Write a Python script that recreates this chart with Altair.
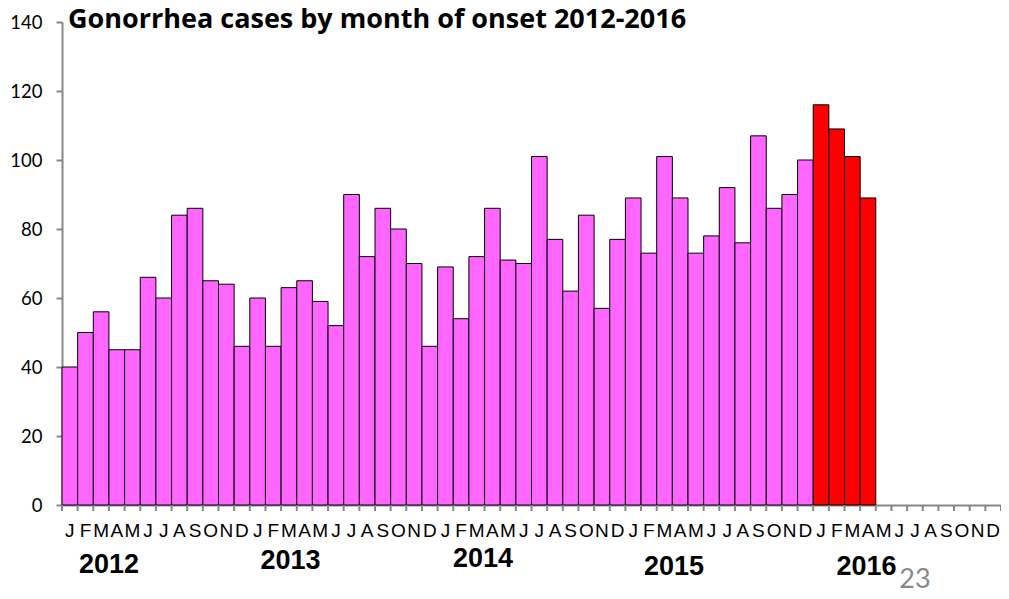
import altair as alt
import pandas as pd

# ---- data ----
months = ["J", "F", "M", "A", "M", "J", "J", "A", "S", "O", "N", "D"]
years = ["2012", "2013", "2014", "2015", "2016"]
cases_2012 = [40, 50, 56, 45, 45, 66, 60, 84, 86, 65, 64, 46]
cases_2013 = [60, 46, 63, 65, 59, 52, 90, 72, 86, 80, 70, 46]
cases_2014 = [69, 54, 72, 86, 71, 70, 101, 77, 62, 84, 57, 77]
cases_2015 = [89, 73, 101, 89, 73, 78, 92, 76, 107, 86, 90, 100]
cases_2016 = [116, 109, 101, 89]
year_label_slot = [3.0, 14.6, 26.9, 39.1, 51.4]
year_label_base = [551, 547, 545, 553, 553]
y_ticks = [0, 20, 40, 60, 80, 100, 120, 140]

all_cases = [cases_2012, cases_2013, cases_2014, cases_2015, cases_2016]
rows = []
i = 0
for yr, vals in zip(years, all_cases):
    for v in vals:
        rows.append({"start": i, "end": i + 1, "value": v,
                     "grp": "current" if yr == "2016" else "past"})
        i += 1
bars_df = pd.DataFrame(rows)

month_df = pd.DataFrame([{"pos": k + 0.5, "label": months[k % 12]} for k in range(60)])
tick_df = pd.DataFrame({"pos": list(range(61))})
year_df = pd.DataFrame({"pos": year_label_slot, "label": years, "base": year_label_base})

W, H = 939, 483
GREY = "#878787"

xscale = alt.Scale(domain=[0, 60], nice=False, zero=False)

bars = alt.Chart(bars_df).mark_bar(stroke="#000000", strokeWidth=1).encode(
    x=alt.X("start:Q", scale=xscale,
            axis=alt.Axis(values=list(range(61)), labels=False, title=None, grid=False,
                          ticks=False, domainColor=GREY, domainWidth=2)),
    x2="end:Q",
    y=alt.Y("value:Q", scale=alt.Scale(domain=[0, 140], nice=False),
            axis=alt.Axis(values=y_ticks, title=None, grid=False, ticks=True, tickSize=6,
                          tickColor=GREY, tickWidth=2, domainColor=GREY, domainWidth=2,
                          labelFont="Lato", labelFontSize=18.5, labelColor="#000000",
                          labelPadding=14)),
    y2=alt.datum(0),
    color=alt.Color("grp:N", scale=alt.Scale(domain=["past", "current"],
                                             range=["#FF66FF", "#FF0000"]), legend=None),
)

x_ticks = alt.Chart(tick_df).mark_rule(color=GREY, strokeWidth=2).encode(
    x=alt.X("pos:Q", scale=xscale), y=alt.value(H), y2=alt.value(H + 6)
)

month_text = alt.Chart(month_df).mark_text(
    font="Liberation Sans Narrow, Liberation Sans", fontSize=19, baseline="alphabetic",
    align="center", color="#000000"
).encode(x=alt.X("pos:Q", scale=xscale), y=alt.value(515), text="label:N")

year_text = alt.Chart(year_df).mark_text(
    font="Liberation Sans Narrow, Liberation Sans", fontSize=27, fontWeight="bold",
    baseline="alphabetic", align="center", color="#000000"
).encode(x=alt.X("pos:Q", scale=xscale), y=alt.Y("base:Q", scale=None), text="label:N")

title_text = alt.Chart(pd.DataFrame({"t": ["Gonorrhea cases by month of onset 2012-2016"]})).mark_text(
    font="Open Sans", fontSize=27, fontWeight="bold", baseline="alphabetic", align="left",
    color="#000000"
).encode(x=alt.value(6), y=alt.value(6), text="t:N")

page_text = alt.Chart(pd.DataFrame({"t": ["23"]})).mark_text(
    font="Lato", fontSize=27, baseline="alphabetic", align="center", color="#898989"
).encode(x=alt.value(853), y=alt.value(566), text="t:N")

chart = alt.layer(bars, x_ticks, month_text, year_text, title_text, page_text).properties(
    width=W, height=H,
    autosize=alt.AutoSizeParams(type="none"),
    padding={"left": 54, "top": 14, "right": 0, "bottom": 86},
).configure_view(stroke=None)

chart.save("out.html", embed_options={"renderer": "svg", "actions": False})
